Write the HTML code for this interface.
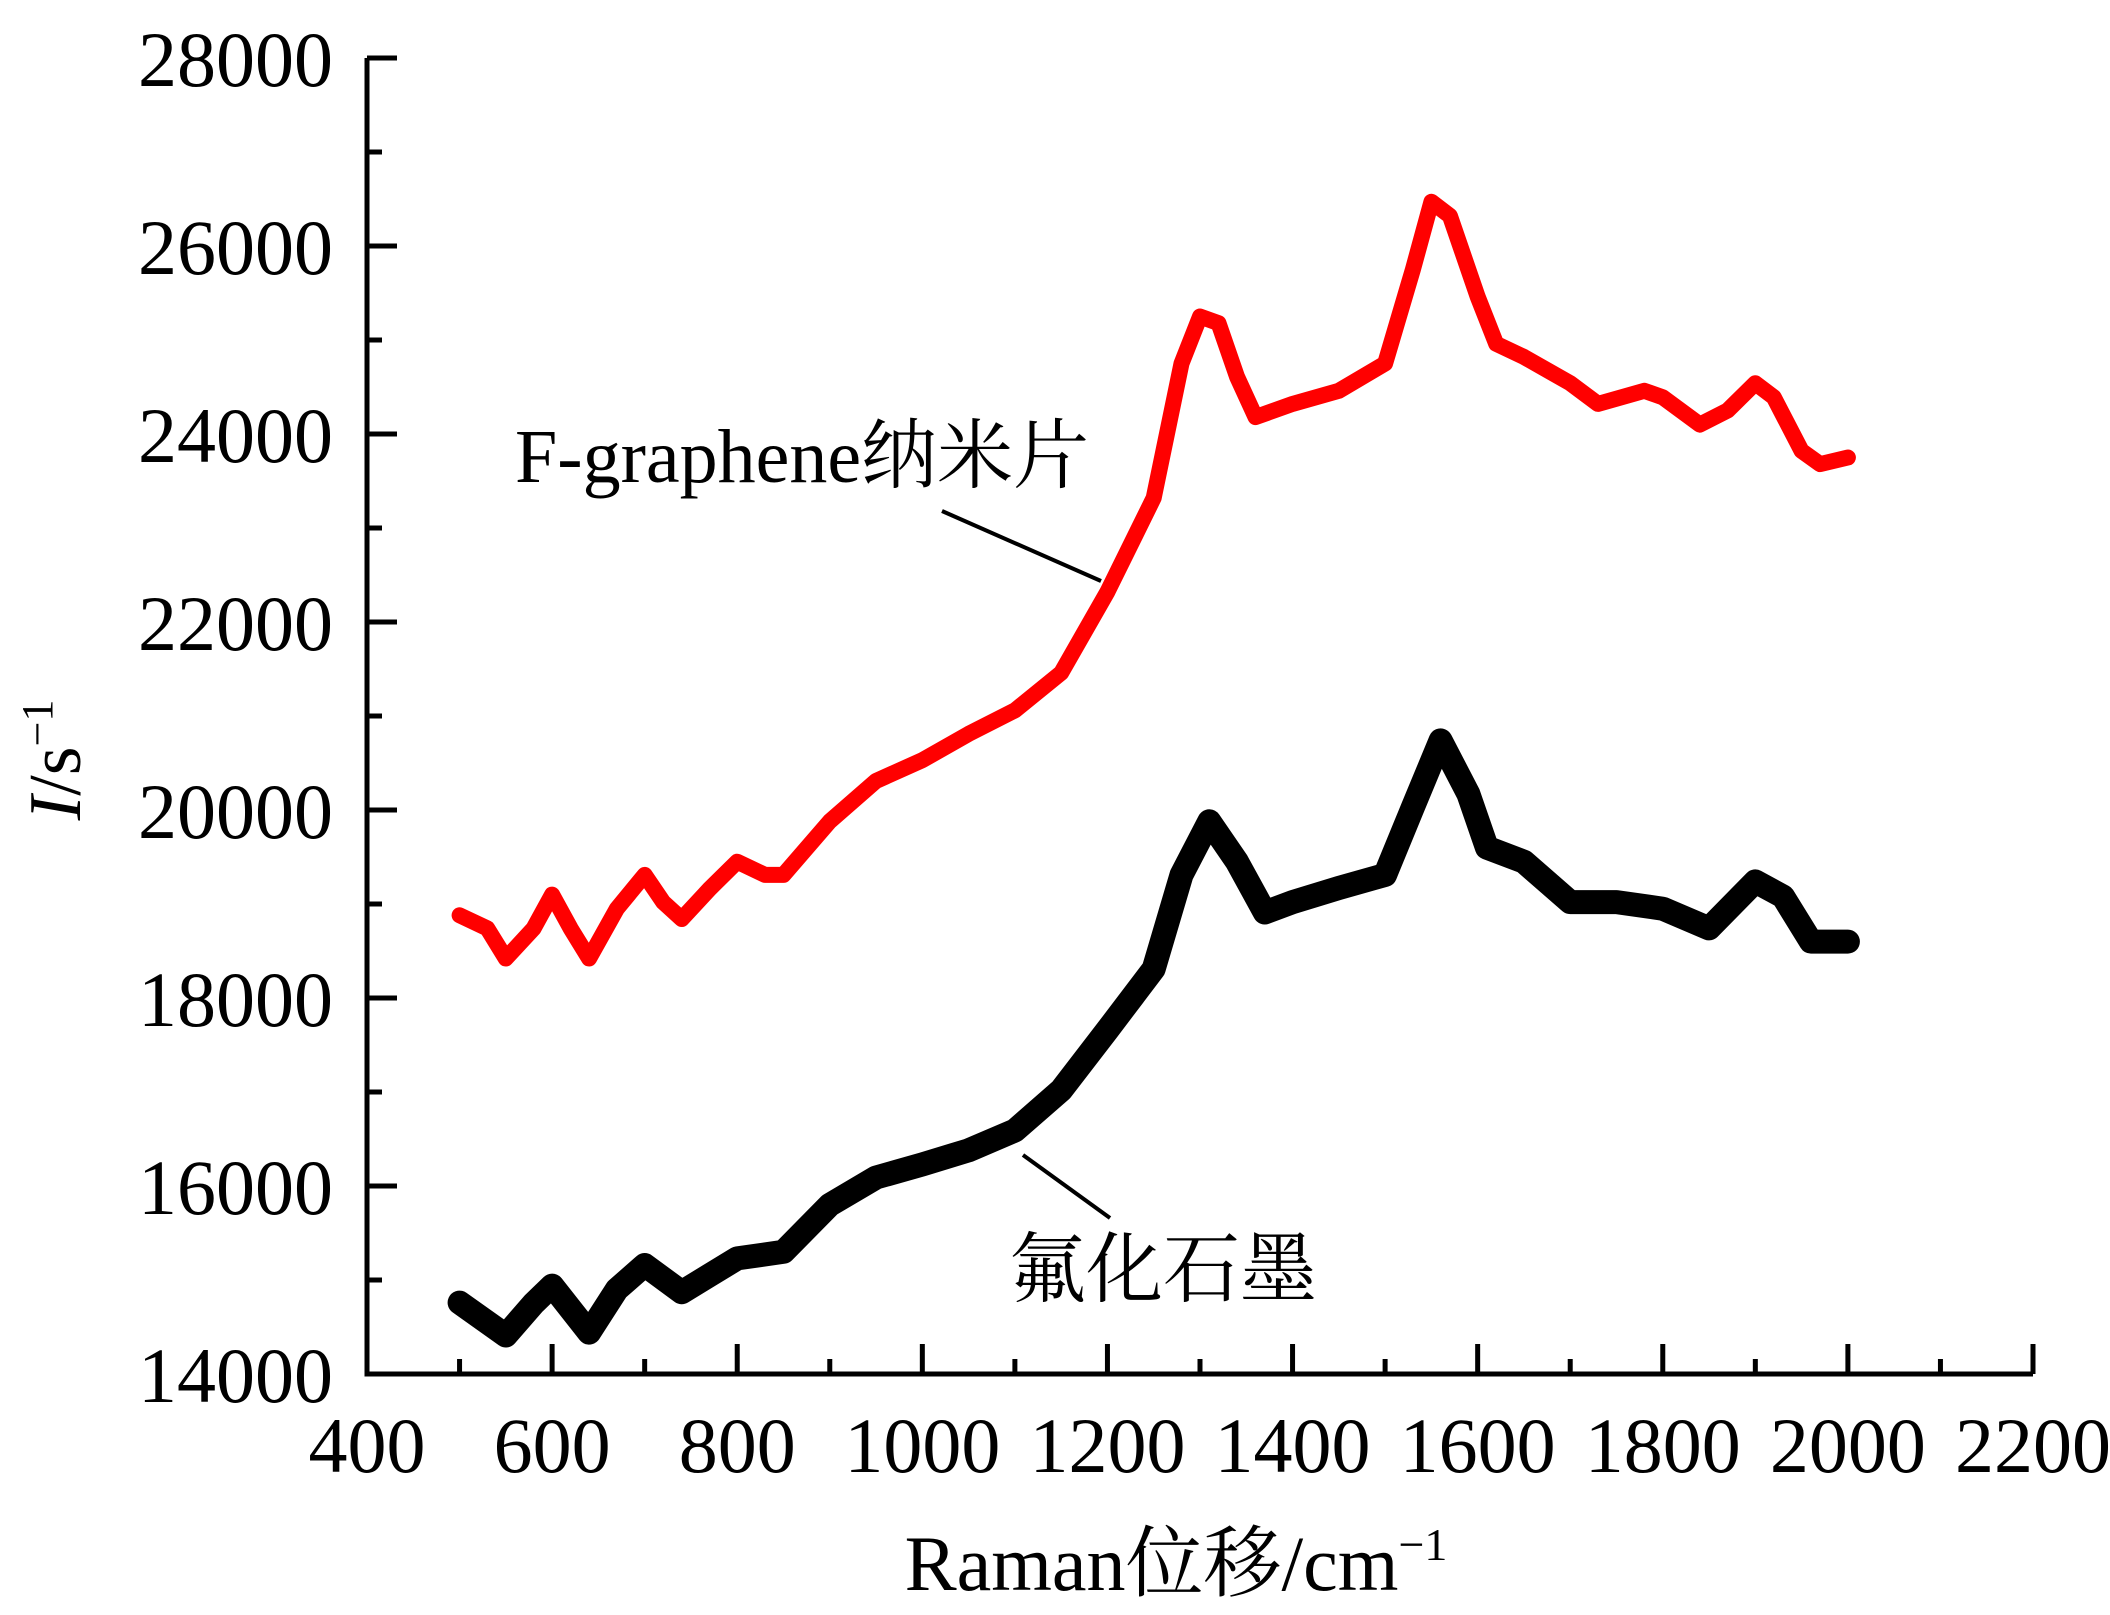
<!DOCTYPE html>
<html><head><meta charset="utf-8"><style>
html,body{margin:0;padding:0;background:#fff;}
svg{display:block;font-family:"Liberation Serif","Noto Serif CJK SC",serif;}
</style></head><body>
<svg id="chart" width="2110" height="1615" viewBox="0 0 2110 1615">
<g id="axes"></g>
<g id="series"></g>
<g id="labels"></g>
</svg>
<script>
const xTicks = [400,600,800,1000,1200,1400,1600,1800,2000,2200];
const yTicks = [14000,16000,18000,20000,22000,24000,26000,28000];
const ramanShift = [500,530,550,580,600,620,640,670,700,720,740,770,800,830,850,900,950,1000,1050,1100,1150,1200,1250,1280,1300,1320,1340,1360,1400,1450,1500,1530,1550,1570,1600,1620,1650,1700,1730,1780,1800,1840,1870,1900,1920,1950,1970,2000];
const fGrapheneI = [18880,18740,18420,18740,19100,18740,18420,18950,19310,19020,18840,19160,19450,19310,19310,19880,20310,20530,20810,21060,21460,22320,23320,24750,25250,25180,24610,24180,24320,24460,24750,25750,26470,26320,25460,24960,24820,24540,24320,24460,24390,24100,24250,24540,24390,23820,23680,23750];
const blackShift = [500,550,580,600,640,670,700,740,770,800,850,900,950,1000,1050,1100,1150,1200,1250,1280,1310,1340,1370,1400,1450,1500,1530,1560,1590,1610,1650,1700,1750,1800,1850,1900,1930,1960,2000];
const graphiteFI = [14760,14410,14750,14940,14440,14900,15160,14870,15050,15230,15300,15800,16090,16230,16380,16590,17020,17660,18310,19310,19880,19450,18910,19020,19170,19310,20030,20740,20170,19600,19450,19020,19020,18950,18740,19240,19080,18600,18600];

const X0=367, X1=2033, Y0=1374, Y1=58;
const xs = v => X0 + (v-400)/(2200-400)*(X1-X0);
const ys = v => Y0 - (v-14000)/(28000-14000)*(Y0-Y1);
const NS='http://www.w3.org/2000/svg';
function mk(tag, attrs, parent){const e=document.createElementNS(NS,tag);for(const k in attrs)e.setAttribute(k,attrs[k]);parent.appendChild(e);return e;}
const axes=document.getElementById('axes'), series=document.getElementById('series'), labels=document.getElementById('labels');

let a=mk('path',{d:`M${X0},${Y1} V${Y0} H${X1}`,fill:'none',stroke:'#000','stroke-width':5},axes);



xTicks.forEach((t,i)=>{
  const x=xs(t);
  const tk=mk('line',{x1:x,x2:x,y1:Y0,y2:Y0-30,stroke:'#000','stroke-width':5},axes);
  
  
  if(i<xTicks.length-1){
    const xm=xs(t+100);
    const mt=mk('line',{x1:xm,x2:xm,y1:Y0,y2:Y0-15,stroke:'#000','stroke-width':5},axes);
    
    
  }
  const lb=mk('text',{x:x,y:1472,'font-size':78,'text-anchor':'middle'},labels);
  lb.textContent=t;
  
  
});
yTicks.forEach((t,i)=>{
  const y=ys(t);
  const tk=mk('line',{x1:X0,x2:X0+30,y1:y,y2:y,stroke:'#000','stroke-width':5},axes);
  
  
  if(i<yTicks.length-1){
    const ym=ys(t+1000);
    const mt=mk('line',{x1:X0,x2:X0+15,y1:ym,y2:ym,stroke:'#000','stroke-width':5},axes);
    
    
  }
  const lb=mk('text',{x:333,y:y+28,'font-size':78,'text-anchor':'end'},labels);
  lb.textContent=t;
  
  
});

function line(xa,ya,color,w,name){
  const d=xa.map((v,i)=>(i?'L':'M')+xs(v).toFixed(1)+','+ys(ya[i]).toFixed(1)).join(' ');
  const p=mk('path',{d:d,fill:'none',stroke:color,'stroke-width':w,'stroke-linejoin':'round','stroke-linecap':'round'},series);
  
  
}
line(ramanShift,fGrapheneI,'#f00',16,'f-graphene-line');
line(blackShift,graphiteFI,'#000',24,'fluorinated-graphite-line');
</script>
<svg style="position:absolute;left:0;top:0" width="2110" height="1615">
<text x="515" y="482" font-size="76" font-family="Liberation Serif,'Noto Serif CJK SC',serif">F-graphene纳米片</text>
<line x1="942" y1="511" x2="1101" y2="581" stroke="#000" stroke-width="4"/>
<text x="1009" y="1296" font-size="77" font-family="'Noto Serif CJK SC',serif">氟化石墨</text>
<line x1="1023" y1="1155" x2="1110" y2="1218" stroke="#000" stroke-width="4"/>
<text x="1176" y="1590" font-size="78" text-anchor="middle" font-family="Liberation Serif,'Noto Serif CJK SC',serif">Raman位移/cm<tspan dy="-30" font-size="46">−1</tspan></text>
<text transform="translate(80,760) rotate(-90)" font-size="74" text-anchor="middle" font-family="Liberation Serif,serif"><tspan font-style="italic">I</tspan>/s<tspan dy="-28" font-size="44">−1</tspan></text>
</svg>
</body></html>
